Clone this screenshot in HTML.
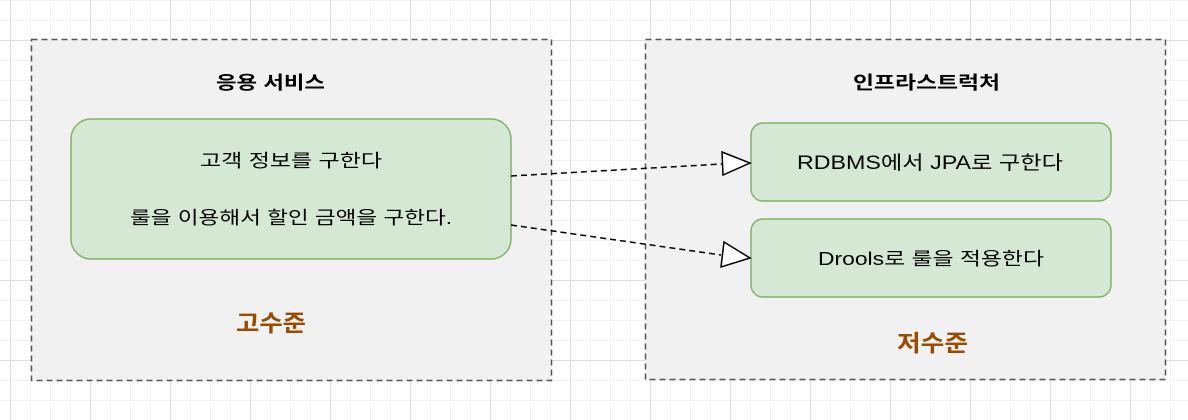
<!DOCTYPE html>
<html><head><meta charset="utf-8"><style>
body{margin:0;width:1188px;height:420px;overflow:hidden;background:#fff;
background-image:
linear-gradient(to right,#dedede 1px,transparent 1px),
linear-gradient(to bottom,#dedede 1px,transparent 1px),
linear-gradient(to right,#f3f3f3 1px,transparent 1px),
linear-gradient(to bottom,#f3f3f3 1px,transparent 1px);
background-size:80px 80px,80px 80px,20px 20px,20px 20px;
background-position:10px 40px,10px 40px,10px 0,10px 0;
font-family:"Liberation Sans","Noto Sans CJK KR",sans-serif;}
</style></head><body>
<svg width="1188" height="420" style="position:absolute;left:0;top:0" font-family="Liberation Sans, Noto Sans CJK KR, sans-serif">
<rect x="31.5" y="39.5" width="520" height="341" fill="#f1f1f1" stroke="#555" stroke-width="1.5" stroke-dasharray="6,4"/>
<rect x="645.5" y="39.5" width="520" height="340" fill="#f1f1f1" stroke="#555" stroke-width="1.5" stroke-dasharray="6,4"/>
<rect x="71" y="119" width="440" height="140" rx="20" fill="#d5e8d4" stroke="#82b366" stroke-width="1.5"/>
<rect x="751" y="123" width="360" height="78" rx="12" fill="#d5e8d4" stroke="#82b366" stroke-width="1.5"/>
<rect x="751" y="219" width="360" height="78" rx="12" fill="#d5e8d4" stroke="#82b366" stroke-width="1.5"/>
<line x1="511" y1="176" x2="722" y2="164" stroke="#000" stroke-width="1.5" stroke-dasharray="6,4"/>
<line x1="511" y1="225" x2="721" y2="255" stroke="#000" stroke-width="1.5" stroke-dasharray="6,4"/>
<polygon points="722,152 750,163 723,175" fill="#fff" stroke="#000" stroke-width="1.5"/>
<polygon points="724,242 750,258 721,267" fill="#fff" stroke="#000" stroke-width="1.5"/>
<text x="216" y="89" font-size="18" font-weight="bold" textLength="109" lengthAdjust="spacingAndGlyphs">응용 서비스</text>
<text x="853" y="89" font-size="18" font-weight="bold" textLength="147" lengthAdjust="spacingAndGlyphs">인프라스트럭처</text>
<text x="200" y="167" font-size="18" textLength="182" lengthAdjust="spacingAndGlyphs">고객 정보를 구한다</text>
<text x="130" y="224" font-size="18" textLength="322" lengthAdjust="spacingAndGlyphs">룰을 이용해서 할인 금액을 구한다.</text>
<text x="797" y="169" font-size="19" textLength="266" lengthAdjust="spacingAndGlyphs">RDBMS에서 JPA로 구한다</text>
<text x="818" y="265" font-size="18" textLength="226" lengthAdjust="spacingAndGlyphs">Drools로 룰을 적용한다</text>
<text x="236" y="331" font-size="23" font-weight="bold" fill="#994c00" textLength="70" lengthAdjust="spacingAndGlyphs">고수준</text>
<text x="897" y="351" font-size="23" font-weight="bold" fill="#994c00" textLength="71" lengthAdjust="spacingAndGlyphs">저수준</text>
</svg>
</body></html>
